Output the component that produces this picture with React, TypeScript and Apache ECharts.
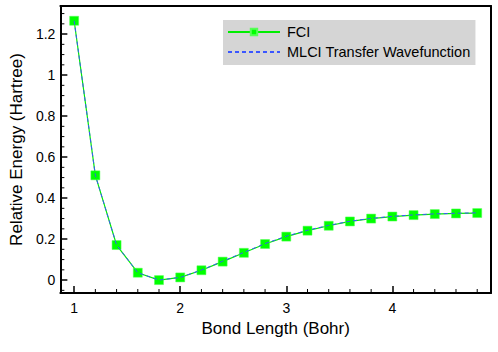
import React, { useEffect, useRef } from "react";
import * as echarts from "echarts";

const bondLength = [1.0, 1.2, 1.4, 1.6, 1.8, 2.0, 2.2, 2.4, 2.6, 2.8, 3.0, 3.2, 3.4, 3.6, 3.8, 4.0, 4.2, 4.4, 4.6, 4.8];
const fciEnergy = [1.265, 0.511, 0.171, 0.036, 0.0, 0.013, 0.048, 0.09, 0.133, 0.176, 0.212, 0.241, 0.265, 0.286, 0.3, 0.31, 0.317, 0.322, 0.325, 0.327];
const mlciEnergy = [1.265, 0.511, 0.171, 0.036, 0.0, 0.013, 0.049, 0.092, 0.135, 0.178, 0.214, 0.243, 0.267, 0.287, 0.301, 0.311, 0.318, 0.323, 0.326, 0.328];

const xMajorTicks = [1, 2, 3, 4];
const xMinorTicks = [1.2, 1.4, 1.6, 1.8, 2.2, 2.4, 2.6, 2.8, 3.2, 3.4, 3.6, 3.8, 4.2, 4.4, 4.6, 4.8];
const yMajorTicks = [0, 0.2, 0.4, 0.6, 0.8, 1.0, 1.2];
const yMinorTicks = [-0.05, 0.05, 0.1, 0.15, 0.25, 0.3, 0.35, 0.45, 0.5, 0.55, 0.65, 0.7, 0.75, 0.85, 0.9, 0.95, 1.05, 1.1, 1.15, 1.25, 1.3];

const xMin = 0.87;
const xMax = 4.93;
const yMin = -0.063;
const yMax = 1.337;

const FONT = "Liberation Sans, Arial, Helvetica, sans-serif";

export default function App() {
  const ref = useRef<HTMLDivElement>(null);
  useEffect(() => {
    if (!ref.current) return;
    const chart = echarts.init(ref.current, undefined, { renderer: "svg" });
    const fmt = (v: number) => String(Math.round(v * 10) / 10);
    const minorTickSeries = (values: number[], dir: "x" | "y") => ({
      type: "custom",
      silent: true,
      z: 5,
      data: values.map((v) => (dir === "x" ? [v, yMin] : [xMin, v])),
      renderItem: (_params: any, api: any) => {
        const p = api.coord([api.value(0), api.value(1)]);
        const shape =
          dir === "x"
            ? { x1: p[0], y1: p[1], x2: p[0], y2: p[1] - 4 }
            : { x1: p[0], y1: p[1], x2: p[0] + 4, y2: p[1] };
        return { type: "line", shape, style: { stroke: "#000", lineWidth: 1 } };
      },
    });
    const frame = { show: true, onZero: false, lineStyle: { color: "#000", width: 2 } };
    chart.setOption({
      animation: false,
      textStyle: { fontFamily: FONT },
      grid: { left: 58, right: 7, top: 6, bottom: 59 },
      legend: {
        left: 223,
        top: 20,
        orient: "vertical",
        backgroundColor: "#d5d5d5",
        borderRadius: 0,
        padding: [4, 5, 5, 4],
        itemGap: 4,
        itemWidth: 52,
        itemHeight: 8,
        textStyle: { fontSize: 14.5, color: "#000", fontFamily: FONT, padding: [0, 0, 0, 2], lineHeight: 16 },
        data: [
          { name: "FCI" },
          { name: "MLCI Transfer Wavefunction", itemStyle: { opacity: 0 } },
        ],
      },
      xAxis: [
        {
          type: "value",
          min: xMin,
          max: xMax,
          position: "bottom",
          name: "Bond Length (Bohr)",
          nameLocation: "middle",
          nameGap: 27,
          nameTextStyle: { fontSize: 17, color: "#000", fontFamily: FONT },
          axisLine: frame,
          axisTick: { show: true, inside: true, length: 7, lineStyle: { color: "#000", width: 1.5 }, customValues: xMajorTicks },
          axisLabel: { color: "#000", fontSize: 14, margin: 8, customValues: xMajorTicks, formatter: fmt, fontFamily: FONT },
          splitLine: { show: false },
        },
        {
          type: "value",
          min: xMin,
          max: xMax,
          position: "top",
          axisLine: frame,
          axisTick: { show: false },
          axisLabel: { show: false },
          splitLine: { show: false },
        },
      ],
      yAxis: [
        {
          type: "value",
          min: yMin,
          max: yMax,
          position: "left",
          name: "Relative Energy (Hartree)",
          nameLocation: "middle",
          nameGap: 27,
          nameTextStyle: { fontSize: 17, color: "#000", fontFamily: FONT },
          axisLine: frame,
          axisTick: { show: true, inside: true, length: 7, lineStyle: { color: "#000", width: 1.5 }, customValues: yMajorTicks },
          axisLabel: { color: "#000", fontSize: 14, margin: 5, customValues: yMajorTicks, formatter: fmt, fontFamily: FONT },
          splitLine: { show: false },
        },
        {
          type: "value",
          min: yMin,
          max: yMax,
          position: "right",
          axisLine: frame,
          axisTick: { show: false },
          axisLabel: { show: false },
          splitLine: { show: false },
        },
      ],
      series: [
        {
          name: "FCI",
          type: "line",
          data: bondLength.map((x, i) => [x, fciEnergy[i]]),
          symbol: "rect",
          symbolSize: 9,
          itemStyle: { color: "#00ff00", borderColor: "#55ff55", borderWidth: 0.5 },
          lineStyle: { color: "#00ee00", width: 1.2 },
          z: 2,
        },
        {
          name: "MLCI Transfer Wavefunction",
          type: "line",
          data: bondLength.map((x, i) => [x, mlciEnergy[i]]),
          symbol: "none",
          showSymbol: false,
          itemStyle: { color: "#3a56ff" },
          lineStyle: { color: "#3a56ff", width: 1, type: [4, 3] },
          z: 3,
        },
        minorTickSeries(xMinorTicks, "x"),
        minorTickSeries(yMinorTicks, "y"),
      ],
    });
    return () => chart.dispose();
  }, []);
  return <div ref={ref} style={{ position: "absolute", left: 0, top: 0, width: 498, height: 352 }} />;
}
